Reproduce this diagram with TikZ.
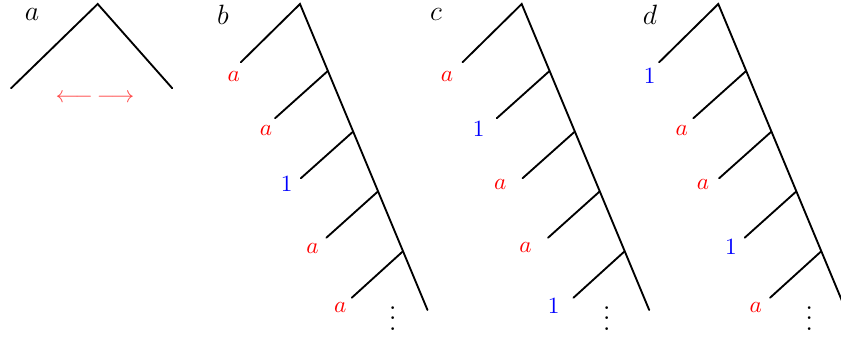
\documentclass[tikz,border=0pt]{standalone}
\usepackage{graphicx}
\newcommand\treepanel[2]{%
  \begin{scope}[shift={(#2,0)}]
    \coordinate (#1t) at (0,4);
    \coordinate (#1e) at (127.5,310);
    \coordinate (#1l0) at (-59.2,62.3);
    \coordinate (#1p1) at (27.8,71);
    \coordinate (#1p2) at (53.0,131.7);
    \coordinate (#1p3) at (77.9,191.5);
    \coordinate (#1p4) at (102.7,251.5);
    \coordinate (#1l1) at (-25,118.3);
    \coordinate (#1l2) at (0.8,178.3);
    \coordinate (#1l3) at (26.4,237.7);
    \coordinate (#1l4) at (51.7,297.8);
  \end{scope}
  \draw[edge] (#1l0) -- (#1t) -- (#1e);
  \foreach \k in {1,...,4} {\draw[edge] (#1p\k) -- (#1l\k);}
}
\begin{document}
\begin{tikzpicture}[x=0.43pt,y=-0.43pt,
  edge/.style={line width=0.8pt, black, line cap=round},
  lbl/.style={inner sep=0pt},
  ra/.style={lbl,text=red},
  one/.style={lbl,text=blue},
  panel/.style={inner sep=0pt,font=\large},
  vd/.style={inner sep=0pt,anchor=base}]
\useasboundingbox (0,0) rectangle (841,339);
\clip (0,0) rectangle (841,339);

% panel a
\node[panel] (la) at (32,14.7) {$a$};
\coordinate (a0) at (97.7,4);
\coordinate (a1) at (11,88.3);
\coordinate (a2) at (172.3,88.3);
\draw[edge] (a1) -- (a0) -- (a2);
\node[lbl,text=red!72,anchor=base] (arr) at (95,102.5) {$\longleftarrow\,\longrightarrow$};

% panel b
\node[panel] (lb) at (223,14.7) {$b$};
\treepanel{b}{300}
\node[ra]  (b1) at (233.8,76.7) {$a$};
\node[ra]  (b2) at (266,130.7) {$a$};
\node[one] (b3) at (286.7,184) {$1$};
\node[ra]  (b4) at (312.5,248.3) {$a$};
\node[ra]  (b5) at (340.2,307.7) {$a$};
\node[vd]  (bd) at (392.7,330.4) {\scalebox{1.13}{$\vdots$}};

% panel c
\node[panel] (lc) at (436,14.7) {$c$};
\treepanel{c}{521.7}
\node[ra]  (c1) at (447,76.7) {$a$};
\node[one] (c2) at (478.8,129.2) {$1$};
\node[ra]  (c3) at (500.2,184) {$a$};
\node[ra]  (c4) at (525.5,247.5) {$a$};
\node[one] (c5) at (553.7,306.2) {$1$};
\node[vd]  (cd) at (606.7,330.4) {\scalebox{1.13}{$\vdots$}};

% panel d
\node[panel] (ld) at (650,14.7) {$d$};
\treepanel{d}{718.3}
\node[one] (d1) at (649.7,76.2) {$1$};
\node[ra]  (d2) at (681.8,130) {$a$};
\node[ra]  (d3) at (703,184.3) {$a$};
\node[one] (d4) at (730.8,247.5) {$1$};
\node[ra]  (d5) at (755.8,307.3) {$a$};
\node[vd]  (dd) at (809.3,330.4) {\scalebox{1.13}{$\vdots$}};
\end{tikzpicture}
\end{document}
